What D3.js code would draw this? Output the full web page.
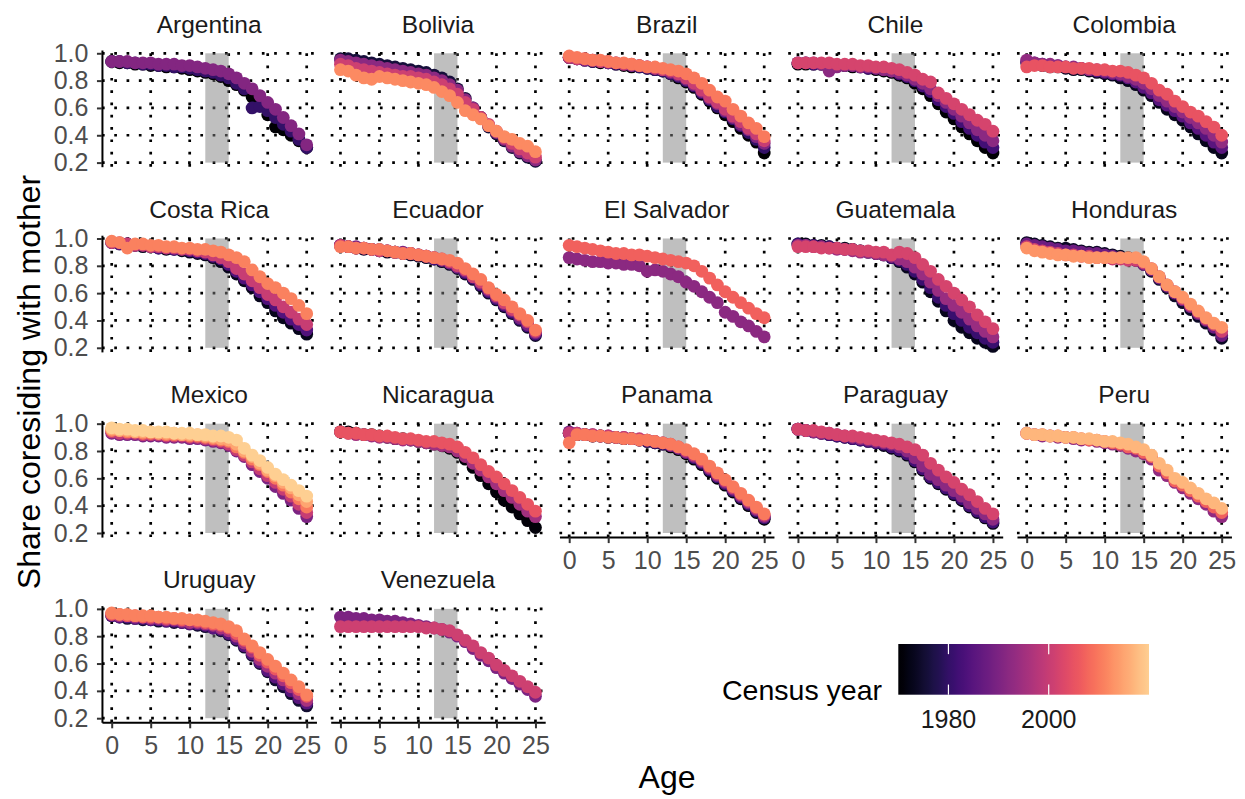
<!DOCTYPE html>
<html>
<head>
<meta charset="utf-8">
<script src="https://cdn.jsdelivr.net/npm/d3@7"></script>
<style>
  body { margin: 0; background: #fff; }
  text { font-family: "Liberation Sans", Arial, sans-serif; }
</style>
</head>
<body>
<svg id="chart"></svg>
<script>
// Ages on the x axis and the facets
var ages = [0,1,2,3,4,5,6,7,8,9,10,11,12,13,14,15,16,17,18,19,20,21,22,23,24,25];
var countries = ["Argentina","Bolivia","Brazil","Chile","Colombia",
  "Costa Rica","Ecuador","El Salvador","Guatemala","Honduras",
  "Mexico","Nicaragua","Panama","Paraguay","Peru","Uruguay","Venezuela"];

// Share coresiding with mother, one row per census
var argYears = [1970, 1980, 1991];
var argShare = [
  [0.94,0.93,0.93,0.92,0.92,0.91,0.91,0.90,0.90,0.89,0.88,0.87,0.86,0.85,0.83,0.80,0.77,0.73,0.68,0.62,0.55,0.46,0.44,0.40,0.36,0.31],
  [0.94,0.94,0.93,0.93,0.92,0.92,0.91,0.91,0.90,0.90,0.89,0.88,0.87,0.86,0.84,0.82,0.78,0.74,0.60,0.61,0.58,0.53,0.48,0.43,0.37,0.31],
  [0.94,0.94,0.94,0.93,0.93,0.93,0.92,0.92,0.92,0.91,0.91,0.90,0.89,0.88,0.87,0.85,0.82,0.78,0.74,0.69,0.64,0.59,0.53,0.47,0.41,0.33]];
var bolYears = [1976, 1992, 2001, 2012];
var bolShare = [
  [0.96,0.96,0.95,0.94,0.93,0.92,0.91,0.90,0.89,0.88,0.87,0.86,0.84,0.82,0.79,0.74,0.67,0.60,0.53,0.46,0.41,0.36,0.31,0.27,0.24,0.21],
  [0.95,0.94,0.93,0.92,0.91,0.90,0.89,0.88,0.87,0.86,0.85,0.84,0.82,0.80,0.77,0.73,0.66,0.60,0.53,0.47,0.42,0.37,0.32,0.28,0.25,0.22],
  [0.92,0.91,0.89,0.88,0.87,0.86,0.85,0.84,0.83,0.83,0.82,0.81,0.79,0.77,0.74,0.70,0.64,0.59,0.53,0.48,0.43,0.38,0.34,0.30,0.27,0.24],
  [0.88,0.87,0.84,0.82,0.81,0.83,0.82,0.81,0.80,0.79,0.78,0.77,0.75,0.72,0.69,0.64,0.58,0.55,0.52,0.47,0.43,0.39,0.37,0.34,0.32,0.28]];
var braYears = [1970, 1980, 1991, 2000, 2010];
var braShare = [
  [0.97,0.96,0.95,0.94,0.93,0.93,0.92,0.91,0.90,0.90,0.89,0.88,0.87,0.85,0.82,0.79,0.75,0.70,0.65,0.60,0.55,0.50,0.45,0.40,0.35,0.27],
  [0.97,0.96,0.95,0.94,0.94,0.93,0.92,0.92,0.91,0.90,0.89,0.88,0.87,0.85,0.83,0.80,0.76,0.71,0.66,0.61,0.57,0.52,0.47,0.42,0.37,0.31],
  [0.97,0.96,0.95,0.95,0.94,0.93,0.93,0.92,0.91,0.91,0.90,0.89,0.88,0.86,0.84,0.81,0.77,0.72,0.67,0.63,0.58,0.53,0.48,0.44,0.39,0.34],
  [0.97,0.96,0.96,0.95,0.94,0.94,0.93,0.92,0.92,0.91,0.90,0.89,0.88,0.87,0.85,0.82,0.78,0.73,0.68,0.64,0.59,0.54,0.50,0.45,0.41,0.36],
  [0.98,0.97,0.96,0.95,0.95,0.94,0.93,0.93,0.92,0.91,0.90,0.90,0.89,0.88,0.87,0.85,0.82,0.78,0.73,0.68,0.65,0.59,0.54,0.49,0.45,0.39]];
var chiYears = [1970, 1982, 1992, 2002];
var chiShare = [
  [0.92,0.92,0.92,0.92,0.91,0.91,0.91,0.90,0.90,0.89,0.88,0.87,0.86,0.84,0.82,0.78,0.74,0.69,0.63,0.57,0.52,0.46,0.41,0.36,0.31,0.27],
  [0.93,0.93,0.92,0.92,0.92,0.91,0.91,0.91,0.90,0.89,0.89,0.88,0.87,0.85,0.83,0.80,0.76,0.72,0.66,0.61,0.56,0.50,0.45,0.40,0.35,0.31],
  [0.93,0.93,0.93,0.92,0.87,0.90,0.91,0.91,0.90,0.90,0.89,0.88,0.87,0.86,0.84,0.81,0.78,0.74,0.69,0.64,0.59,0.54,0.49,0.44,0.40,0.36],
  [0.93,0.93,0.93,0.93,0.93,0.92,0.92,0.92,0.91,0.91,0.90,0.90,0.89,0.88,0.86,0.84,0.81,0.79,0.71,0.67,0.63,0.59,0.55,0.51,0.48,0.43]];
var colYears = [1973, 1985, 1993, 2005];
var colShare = [
  [0.93,0.92,0.91,0.90,0.90,0.89,0.88,0.88,0.87,0.86,0.85,0.84,0.82,0.80,0.77,0.73,0.69,0.64,0.59,0.55,0.51,0.46,0.41,0.36,0.31,0.27],
  [0.94,0.93,0.92,0.91,0.91,0.90,0.89,0.89,0.88,0.87,0.86,0.85,0.84,0.82,0.79,0.75,0.71,0.66,0.62,0.58,0.54,0.49,0.45,0.40,0.35,0.31],
  [0.95,0.93,0.92,0.92,0.91,0.90,0.90,0.89,0.88,0.88,0.87,0.86,0.85,0.83,0.81,0.78,0.74,0.69,0.65,0.61,0.57,0.53,0.49,0.45,0.40,0.35],
  [0.90,0.91,0.91,0.90,0.90,0.90,0.89,0.89,0.89,0.88,0.88,0.87,0.87,0.86,0.84,0.82,0.78,0.73,0.70,0.65,0.61,0.57,0.54,0.50,0.46,0.40]];
var crcYears = [1973, 1984, 2000, 2011];
var crcShare = [
  [0.97,0.96,0.96,0.95,0.94,0.94,0.93,0.92,0.92,0.91,0.90,0.89,0.88,0.86,0.83,0.79,0.74,0.69,0.64,0.58,0.53,0.47,0.42,0.38,0.34,0.30],
  [0.97,0.96,0.96,0.95,0.95,0.94,0.93,0.93,0.92,0.92,0.91,0.90,0.89,0.87,0.85,0.81,0.76,0.71,0.66,0.61,0.56,0.51,0.46,0.41,0.37,0.33],
  [0.97,0.97,0.96,0.95,0.95,0.94,0.94,0.93,0.93,0.92,0.92,0.91,0.90,0.88,0.86,0.83,0.78,0.74,0.69,0.64,0.59,0.55,0.50,0.46,0.41,0.37],
  [0.98,0.97,0.93,0.96,0.96,0.95,0.95,0.94,0.94,0.93,0.93,0.92,0.92,0.91,0.90,0.88,0.86,0.83,0.77,0.72,0.67,0.64,0.60,0.56,0.51,0.45]];
var ecuYears = [1974, 1982, 1990, 2001, 2010];
var ecuShare = [
  [0.95,0.94,0.93,0.92,0.92,0.91,0.90,0.90,0.89,0.88,0.87,0.86,0.85,0.83,0.81,0.78,0.74,0.70,0.65,0.60,0.55,0.50,0.45,0.40,0.35,0.29],
  [0.95,0.94,0.93,0.93,0.92,0.91,0.91,0.90,0.89,0.89,0.88,0.87,0.85,0.84,0.82,0.79,0.75,0.71,0.66,0.61,0.56,0.51,0.46,0.41,0.36,0.30],
  [0.95,0.94,0.94,0.93,0.92,0.92,0.91,0.90,0.90,0.89,0.88,0.87,0.86,0.84,0.82,0.79,0.76,0.72,0.67,0.62,0.57,0.52,0.47,0.42,0.37,0.31],
  [0.95,0.94,0.93,0.93,0.92,0.91,0.91,0.90,0.89,0.89,0.88,0.87,0.86,0.85,0.83,0.80,0.77,0.72,0.68,0.63,0.58,0.53,0.48,0.44,0.39,0.32],
  [0.94,0.94,0.93,0.93,0.92,0.92,0.91,0.90,0.89,0.89,0.88,0.87,0.86,0.85,0.84,0.82,0.78,0.74,0.70,0.64,0.59,0.55,0.50,0.45,0.40,0.33]];
var slvYears = [1992, 2007];
var slvShare = [
  [0.86,0.85,0.84,0.83,0.83,0.82,0.82,0.81,0.81,0.80,0.76,0.77,0.76,0.74,0.72,0.68,0.65,0.61,0.57,0.53,0.46,0.43,0.39,0.36,0.32,0.28],
  [0.95,0.94,0.93,0.92,0.91,0.90,0.89,0.89,0.88,0.88,0.87,0.86,0.85,0.84,0.83,0.82,0.80,0.76,0.71,0.66,0.61,0.57,0.53,0.49,0.45,0.42]];
var gtmYears = [1973, 1981, 1994, 2002];
var gtmShare = [
  [0.96,0.96,0.95,0.95,0.94,0.93,0.93,0.92,0.91,0.90,0.89,0.88,0.86,0.83,0.79,0.74,0.68,0.61,0.54,0.47,0.40,0.35,0.31,0.27,0.24,0.21],
  [0.96,0.95,0.95,0.94,0.94,0.93,0.92,0.92,0.91,0.90,0.89,0.88,0.86,0.84,0.81,0.76,0.70,0.64,0.57,0.51,0.45,0.40,0.35,0.31,0.27,0.24],
  [0.95,0.95,0.94,0.94,0.93,0.92,0.92,0.91,0.90,0.90,0.89,0.88,0.87,0.85,0.83,0.79,0.74,0.68,0.62,0.56,0.51,0.46,0.41,0.36,0.32,0.28],
  [0.94,0.94,0.94,0.93,0.93,0.93,0.92,0.92,0.91,0.91,0.90,0.90,0.88,0.90,0.89,0.86,0.81,0.76,0.70,0.65,0.60,0.55,0.50,0.44,0.39,0.34]];
var hndYears = [1974, 1988, 2001, 2013];
var hndShare = [
  [0.97,0.96,0.95,0.94,0.93,0.93,0.92,0.91,0.90,0.90,0.89,0.88,0.87,0.86,0.84,0.81,0.76,0.70,0.64,0.58,0.53,0.48,0.43,0.38,0.33,0.27],
  [0.96,0.95,0.94,0.93,0.92,0.91,0.91,0.90,0.89,0.89,0.88,0.87,0.86,0.85,0.84,0.81,0.77,0.71,0.65,0.60,0.55,0.50,0.45,0.40,0.35,0.29],
  [0.94,0.92,0.91,0.90,0.89,0.88,0.88,0.87,0.87,0.86,0.86,0.85,0.85,0.84,0.84,0.82,0.78,0.72,0.66,0.61,0.56,0.51,0.46,0.41,0.37,0.32],
  [0.93,0.91,0.90,0.89,0.88,0.88,0.87,0.87,0.86,0.86,0.86,0.86,0.86,0.86,0.86,0.83,0.78,0.72,0.66,0.61,0.57,0.52,0.47,0.42,0.38,0.35]];
var mexYears = [1990, 2000, 2010, 2015, 2020];
var mexShare = [
  [0.93,0.92,0.92,0.92,0.91,0.91,0.91,0.90,0.90,0.90,0.89,0.89,0.88,0.87,0.86,0.84,0.80,0.76,0.70,0.65,0.60,0.54,0.49,0.44,0.38,0.32],
  [0.94,0.93,0.93,0.93,0.92,0.92,0.92,0.91,0.91,0.91,0.90,0.90,0.89,0.88,0.87,0.85,0.81,0.77,0.72,0.67,0.62,0.57,0.52,0.47,0.41,0.35],
  [0.95,0.95,0.94,0.94,0.93,0.93,0.93,0.92,0.92,0.92,0.91,0.91,0.90,0.89,0.88,0.87,0.83,0.79,0.74,0.70,0.65,0.60,0.55,0.50,0.45,0.39],
  [0.96,0.95,0.95,0.94,0.94,0.94,0.93,0.93,0.93,0.92,0.92,0.92,0.91,0.90,0.89,0.88,0.85,0.80,0.76,0.71,0.66,0.62,0.57,0.53,0.48,0.43],
  [0.97,0.96,0.96,0.95,0.95,0.94,0.94,0.94,0.93,0.93,0.93,0.92,0.92,0.91,0.91,0.90,0.88,0.82,0.77,0.73,0.68,0.63,0.59,0.55,0.51,0.47]];
var nicYears = [1971, 1995, 2005];
var nicShare = [
  [0.94,0.94,0.93,0.92,0.92,0.91,0.90,0.89,0.89,0.88,0.87,0.86,0.85,0.84,0.82,0.79,0.74,0.68,0.62,0.56,0.50,0.44,0.39,0.34,0.29,0.24],
  [0.94,0.93,0.92,0.92,0.91,0.90,0.90,0.89,0.88,0.88,0.87,0.86,0.85,0.84,0.83,0.80,0.76,0.71,0.66,0.61,0.56,0.51,0.46,0.41,0.36,0.32],
  [0.94,0.93,0.93,0.92,0.92,0.91,0.91,0.90,0.89,0.89,0.88,0.87,0.87,0.86,0.85,0.83,0.79,0.75,0.70,0.65,0.61,0.56,0.51,0.46,0.41,0.36]];
var panYears = [1970, 1980, 1990, 2000, 2010];
var panShare = [
  [0.93,0.92,0.92,0.91,0.91,0.90,0.90,0.89,0.89,0.88,0.87,0.86,0.85,0.83,0.81,0.78,0.74,0.70,0.65,0.60,0.55,0.50,0.45,0.40,0.35,0.30],
  [0.93,0.92,0.92,0.91,0.91,0.90,0.90,0.89,0.89,0.88,0.87,0.86,0.85,0.84,0.82,0.79,0.75,0.71,0.66,0.61,0.56,0.51,0.46,0.41,0.36,0.31],
  [0.94,0.93,0.92,0.92,0.91,0.91,0.90,0.90,0.89,0.88,0.88,0.87,0.86,0.84,0.82,0.79,0.76,0.72,0.67,0.62,0.57,0.52,0.47,0.42,0.37,0.32],
  [0.93,0.93,0.92,0.92,0.91,0.91,0.90,0.90,0.89,0.89,0.88,0.87,0.86,0.85,0.83,0.80,0.77,0.73,0.68,0.63,0.58,0.53,0.48,0.43,0.38,0.33],
  [0.86,0.92,0.92,0.91,0.91,0.90,0.90,0.89,0.89,0.88,0.88,0.87,0.86,0.85,0.83,0.81,0.78,0.74,0.69,0.64,0.59,0.54,0.49,0.44,0.39,0.34]];
var pryYears = [1972, 1982, 1992, 2002];
var pryShare = [
  [0.96,0.95,0.94,0.93,0.92,0.91,0.90,0.89,0.88,0.87,0.86,0.84,0.82,0.80,0.77,0.72,0.66,0.60,0.56,0.52,0.48,0.44,0.39,0.35,0.31,0.27],
  [0.96,0.95,0.94,0.93,0.92,0.91,0.90,0.89,0.88,0.87,0.86,0.85,0.83,0.81,0.78,0.73,0.67,0.61,0.57,0.53,0.49,0.45,0.40,0.36,0.32,0.28],
  [0.96,0.95,0.94,0.93,0.93,0.92,0.91,0.90,0.89,0.88,0.87,0.86,0.85,0.83,0.80,0.75,0.69,0.63,0.59,0.55,0.51,0.47,0.42,0.38,0.34,0.30],
  [0.96,0.95,0.95,0.94,0.93,0.92,0.91,0.91,0.90,0.89,0.88,0.87,0.86,0.85,0.83,0.81,0.77,0.71,0.66,0.61,0.57,0.52,0.48,0.43,0.38,0.34]];
var perYears = [1993, 2007, 2017];
var perShare = [
  [0.93,0.92,0.91,0.91,0.90,0.90,0.89,0.88,0.88,0.87,0.86,0.85,0.84,0.82,0.80,0.78,0.74,0.66,0.62,0.57,0.53,0.49,0.45,0.41,0.36,0.32],
  [0.93,0.92,0.92,0.91,0.91,0.90,0.90,0.89,0.88,0.88,0.87,0.86,0.85,0.83,0.82,0.79,0.76,0.69,0.64,0.58,0.55,0.51,0.47,0.43,0.39,0.35],
  [0.93,0.92,0.92,0.91,0.91,0.90,0.90,0.89,0.89,0.88,0.87,0.87,0.86,0.85,0.83,0.81,0.77,0.71,0.66,0.60,0.57,0.53,0.49,0.45,0.42,0.38]];
var uryYears = [1975, 1985, 1996, 2006, 2011];
var uryShare = [
  [0.95,0.94,0.93,0.93,0.92,0.92,0.91,0.91,0.90,0.90,0.89,0.88,0.87,0.86,0.84,0.81,0.77,0.72,0.66,0.60,0.54,0.48,0.43,0.38,0.33,0.29],
  [0.95,0.94,0.94,0.93,0.93,0.92,0.92,0.91,0.91,0.90,0.89,0.89,0.88,0.86,0.85,0.82,0.78,0.73,0.67,0.61,0.55,0.50,0.45,0.40,0.35,0.31],
  [0.96,0.95,0.95,0.94,0.94,0.93,0.93,0.92,0.92,0.91,0.90,0.90,0.89,0.88,0.86,0.84,0.80,0.75,0.69,0.63,0.58,0.53,0.48,0.43,0.38,0.33],
  [0.96,0.96,0.95,0.95,0.94,0.94,0.94,0.93,0.93,0.92,0.92,0.91,0.90,0.89,0.88,0.86,0.82,0.77,0.72,0.66,0.61,0.56,0.51,0.46,0.41,0.36],
  [0.97,0.96,0.96,0.95,0.95,0.95,0.94,0.94,0.93,0.93,0.92,0.92,0.91,0.90,0.89,0.87,0.84,0.78,0.73,0.68,0.63,0.58,0.53,0.48,0.43,0.37]];
var venYears = [1990, 2001];
var venShare = [
  [0.94,0.94,0.93,0.93,0.92,0.92,0.91,0.91,0.90,0.89,0.88,0.87,0.86,0.85,0.83,0.80,0.76,0.71,0.66,0.62,0.57,0.53,0.49,0.45,0.41,0.36],
  [0.87,0.87,0.87,0.87,0.87,0.87,0.87,0.87,0.87,0.87,0.87,0.86,0.86,0.85,0.84,0.81,0.77,0.73,0.68,0.64,0.59,0.55,0.51,0.47,0.43,0.39]];

// In the same order as countries
var yearsByCountry = [argYears, bolYears, braYears, chiYears, colYears, crcYears, ecuYears, slvYears,
  gtmYears, hndYears, mexYears, nicYears, panYears, pryYears, perYears, uryYears, venYears];
var shareByCountry = [argShare, bolShare, braShare, chiShare, colShare, crcShare, ecuShare, slvShare,
  gtmShare, hndShare, mexShare, nicShare, panShare, pryShare, perShare, uryShare, venShare];

var xTicks = [0, 5, 10, 15, 20, 25];
var yTicks = [0.2, 0.4, 0.6, 0.8, 1.0];
var bandAges = [12, 15];
var yearLimits = [1970, 2020];
var legendTicks = [1980, 2000];

// Layout
var width = 1245, height = 799;
var panelW = 214.5, panelH = 116.7;
var left0 = 101.95, top0 = 50;
var colStep = 228.75, rowStep = 185.2;

var svg = d3.select("#chart")
    .attr("width", width)
    .attr("height", height);

var x = d3.scaleLinear().domain([-1.25, 26.25]).range([0, panelW]);
var y = d3.scaleLinear().domain([0.17, 1.024]).range([panelH, 0]);
var color = d3.scaleSequential(function(t) { return d3.interpolateMagma(t * 0.9); })
    .domain(yearLimits);

countries.forEach(function(name, i) {
  var col = i % 5, row = Math.floor(i / 5);
  var g = svg.append("g")
      .attr("transform", "translate(" + (left0 + col * colStep) + "," + (top0 + row * rowStep) + ")");

  // dotted grid
  g.selectAll(".hgrid").data(yTicks).enter().append("line")
      .attr("x1", 0).attr("x2", panelW)
      .attr("y1", function(d) { return y(d); }).attr("y2", function(d) { return y(d); })
      .attr("stroke", "#000").attr("stroke-width", 2.7).attr("stroke-dasharray", "2.7 9.6");
  g.selectAll(".vgrid").data(xTicks).enter().append("line")
      .attr("x1", function(d) { return x(d); }).attr("x2", function(d) { return x(d); })
      .attr("y1", panelH).attr("y2", 0)
      .attr("stroke", "#000").attr("stroke-width", 2.7).attr("stroke-dasharray", "2.7 9.6");

  // shaded age band
  g.append("rect")
      .attr("x", x(bandAges[0]))
      .attr("width", x(bandAges[1]) - x(bandAges[0]))
      .attr("y", y(1.0))
      .attr("height", y(0.2) - y(1.0))
      .attr("fill", "#7f7f7f")
      .attr("fill-opacity", 0.5);

  // one point per census year and age
  var pts = [];
  yearsByCountry[i].forEach(function(yr, j) {
    ages.forEach(function(a, k) {
      pts.push({ year: yr, age: a, share: shareByCountry[i][j][k] });
    });
  });
  g.selectAll(".pt").data(pts).enter().append("circle")
      .attr("cx", function(d) { return x(d.age); })
      .attr("cy", function(d) { return y(d.share); })
      .attr("r", 6.4)
      .attr("fill", function(d) { return color(d.year); });

  // strip title
  g.append("text")
      .attr("x", panelW / 2)
      .attr("y", -17.5)
      .attr("text-anchor", "middle")
      .attr("font-size", "24.5px")
      .attr("fill", "#1a1a1a")
      .text(name);

  if (col === 0) {
    var ya = g.append("g")
        .call(d3.axisLeft(y).tickValues(yTicks).tickFormat(d3.format(".1f"))
          .tickSize(5).tickSizeOuter(0).tickPadding(8.5));
    ya.select(".domain").attr("stroke", "#000").attr("stroke-width", 2);
    ya.selectAll(".tick line").attr("stroke", "#333").attr("stroke-width", 2);
    ya.selectAll(".tick text").attr("font-size", "25px").attr("fill", "#4d4d4d")
        .attr("font-family", "Liberation Sans, Arial, sans-serif");
  }
  if (i + 5 >= countries.length) {
    var xa = g.append("g")
        .attr("transform", "translate(0," + panelH + ")")
        .call(d3.axisBottom(x).tickValues(xTicks).tickSize(6).tickSizeOuter(0).tickPadding(8));
    xa.select(".domain").attr("stroke", "#000").attr("stroke-width", 2);
    xa.selectAll(".tick line").attr("stroke", "#333").attr("stroke-width", 2);
    xa.selectAll(".tick text").attr("font-size", "25px").attr("fill", "#4d4d4d")
        .attr("font-family", "Liberation Sans, Arial, sans-serif");
  }
});

// Axis titles
svg.append("text")
    .attr("transform", "translate(40,382) rotate(-90)")
    .attr("text-anchor", "middle")
    .attr("font-size", "32px")
    .attr("fill", "#000")
    .text("Share coresiding with mother");

svg.append("text")
    .attr("x", 667)
    .attr("y", 788)
    .attr("text-anchor", "middle")
    .attr("font-size", "32px")
    .attr("fill", "#000")
    .text("Age");

// Colour bar legend
var barX = 898.3, barY = 644, barW = 250.7, barH = 50.7;
var lx = d3.scaleLinear().domain(yearLimits).range([barX, barX + barW]);

var grad = svg.append("defs").append("linearGradient")
    .attr("id", "magma").attr("x1", "0%").attr("x2", "100%");
d3.range(0, 1.0001, 0.02).forEach(function(t) {
  grad.append("stop")
      .attr("offset", (t * 100) + "%")
      .attr("stop-color", d3.interpolateMagma(t * 0.9));
});

svg.append("rect")
    .attr("x", barX).attr("y", barY)
    .attr("width", barW).attr("height", barH)
    .attr("fill", "url(#magma)");

legendTicks.forEach(function(t) {
  [[barY, barY + barH / 5], [barY + barH * 4 / 5, barY + barH]].forEach(function(seg) {
    svg.append("line")
        .attr("x1", lx(t)).attr("x2", lx(t))
        .attr("y1", seg[0]).attr("y2", seg[1])
        .attr("stroke", "#fff").attr("stroke-width", 1.2);
  });
  svg.append("text")
      .attr("x", lx(t))
      .attr("y", 728.3)
      .attr("text-anchor", "middle")
      .attr("font-size", "25px")
      .attr("fill", "#1a1a1a")
      .text(t);
});

svg.append("text")
    .attr("x", 882)
    .attr("y", 700)
    .attr("text-anchor", "end")
    .attr("font-size", "28.5px")
    .attr("fill", "#000")
    .text("Census year");
</script>
</body>
</html>
